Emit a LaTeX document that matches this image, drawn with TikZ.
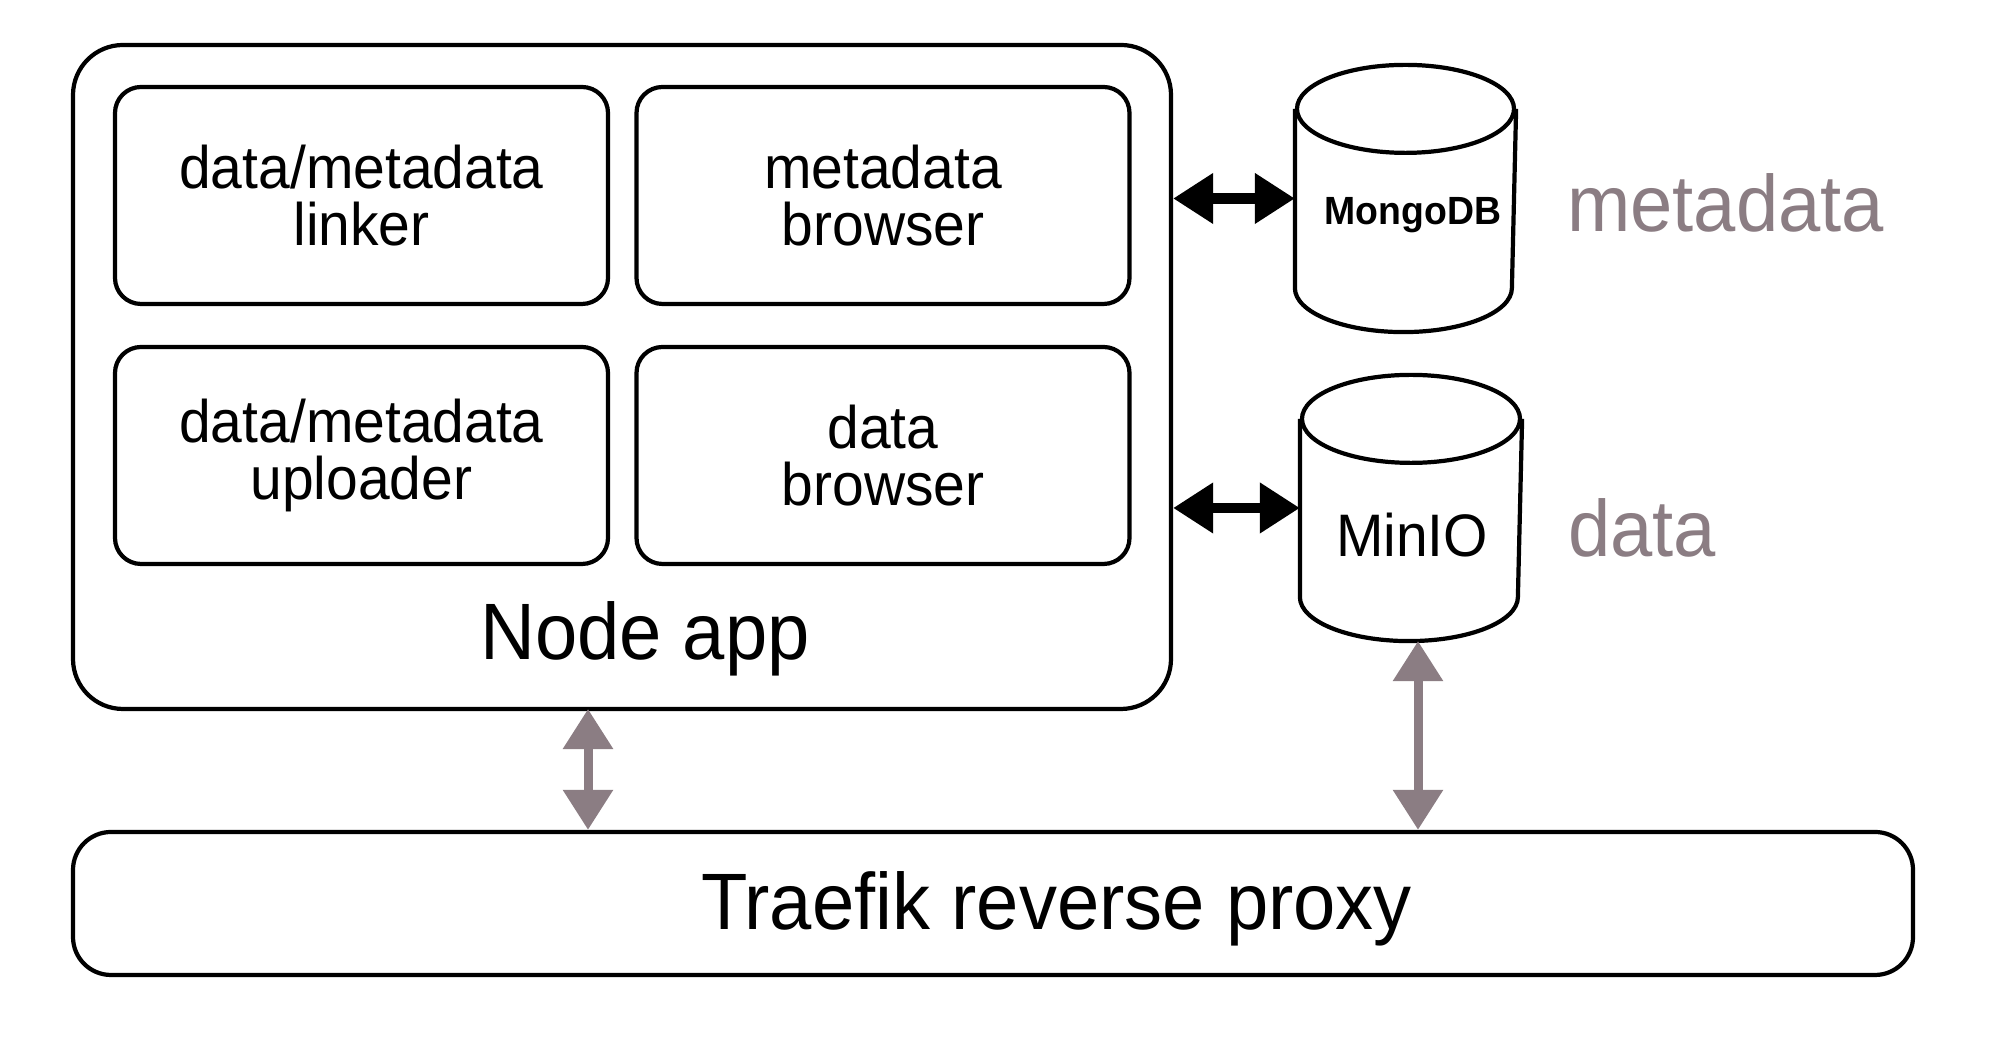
\documentclass[tikz,border=0pt]{standalone}
\usepackage{fontspec}
\setmainfont{Liberation Sans}[FakeStretch=0.95]
\usetikzlibrary{arrows.meta}
\definecolor{proxygrey}{RGB}{139,125,131}

\begin{document}
\begin{tikzpicture}[line width=1.2pt,
    module/.style={draw, rounded corners=0.26cm, minimum width=4.93cm, minimum height=2.17cm, align=center, font=\fontsize{17.07}{16.2}\selectfont},
    dbbody/.style={inner sep=0pt},
    dblink/.style={{Triangle[length=11.4pt,width=13.7pt]}-{Triangle[length=11.4pt,width=13.7pt]}, line width=3pt},
    proxylink/.style={{Triangle[length=11.4pt,width=13.7pt]}-{Triangle[length=11.4pt,width=13.7pt]}, line width=2.56pt, draw=proxygrey, fill=proxygrey}]
    \useasboundingbox (0,0) rectangle (20,10.43);

    % node app with its four modules
    \node[draw, rounded corners=0.5cm, minimum width=10.98cm, minimum height=6.64cm] (app) at (6.22, 6.66) {};
    \node[module] (linker) at (3.615, 8.475) {data/metadata\\linker};
    \node[module] (metabrowser) at (8.83, 8.475) {metadata\\browser};
    \node[module] (uploader) at (3.615, 5.875) {data/metadata\\uploader};
    \node[module] (databrowser) at (8.83, 5.875) {data\\browser};
    \node[anchor=base, font=\fontsize{22.76}{24}\selectfont] (applabel) at (6.45, 3.83) {Node app};

    % databases
    \node[dbbody, minimum width=2.17cm, minimum height=2.63cm] (mongo) at (14.055, 8.445) {};
    \draw ([yshift=-0.44cm]mongo.north west) -- ([yshift=0.44cm]mongo.south west)
        arc[start angle=180, end angle=360, x radius=1.085cm, y radius=0.44cm]
        -- ([yshift=-0.44cm]mongo.north east);
    \draw ([yshift=-0.44cm]mongo.north) ellipse[x radius=1.085cm, y radius=0.44cm];
    \node[anchor=base, font=\fontsize{11.2}{13}\selectfont\bfseries] (mongolabel) at (14.13, 8.18) {MongoDB};

    \node[dbbody, minimum width=2.18cm, minimum height=2.62cm] (minio) at (14.11, 5.35) {};
    \draw ([yshift=-0.44cm]minio.north west) -- ([yshift=0.44cm]minio.south west)
        arc[start angle=180, end angle=360, x radius=1.09cm, y radius=0.44cm]
        -- ([yshift=-0.44cm]minio.north east);
    \draw ([yshift=-0.44cm]minio.north) ellipse[x radius=1.09cm, y radius=0.44cm];
    \node[anchor=base, font=\fontsize{17.07}{18}\selectfont] (miniolabel) at (14.12, 4.86) {MinIO};

    \node[anchor=base, text=proxygrey, font=\fontsize{22.76}{24}\selectfont] (metakind) at (17.255, 8.11) {metadata};
    \node[anchor=base, text=proxygrey, font=\fontsize{22.76}{24}\selectfont] (datakind) at (16.42, 4.86) {data};

    % reverse proxy
    \node[draw, rounded corners=0.38cm, minimum width=18.4cm, minimum height=1.43cm] (proxy) at (9.93, 1.395) {};
    \node[anchor=base, font=\fontsize{22.76}{24}\selectfont] (proxylabel) at (10.565, 1.13) {Traefik reverse proxy};

    \coordinate (appport) at (5.88, 3.34);
    \coordinate (minioport) at ([xshift=0.07cm]minio.south);

    \draw[dblink] (app.east |- mongo.west) -- (mongo.west);
    \draw[dblink] (app.east |- minio.west) -- (minio.west);
    \draw[proxylink] (appport) -- (appport |- proxy.north);
    \draw[proxylink] (minioport) -- (minioport |- proxy.north);
\end{tikzpicture}
\end{document}
